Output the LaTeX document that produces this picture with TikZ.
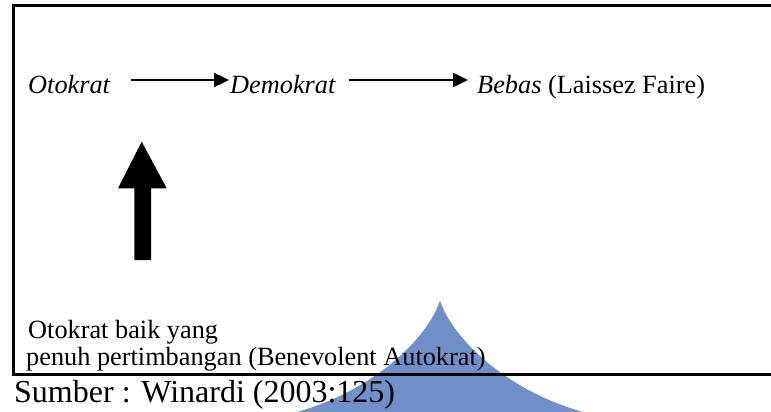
\documentclass[tikz,border=0pt]{standalone}
\usepackage{fontspec}
\setmainfont{Liberation Serif}
\usetikzlibrary{arrows.meta}
\definecolor{shapeblue}{RGB}{113,143,200}
\begin{document}
\begin{tikzpicture}[x=1pt,y=-1pt,
  lbl/.style={inner sep=0pt,anchor=base west,font=\fontsize{26.3}{30}\selectfont},
  src/.style={inner sep=0pt,anchor=base west,font=\fontsize{32}{36}\selectfont},
  arr/.style={line width=2.4pt,-{Triangle[length=15pt,width=14pt]}},
  frame/.style={line width=2.6pt}]
\useasboundingbox (0,0) rectangle (771,412);
\begin{scope}
\clip (0,0) rectangle (771,412);
\fill[shapeblue] (440,300) .. controls (430,335) and (370,402) .. (262,420)
  -- (618,420) .. controls (510,402) and (450,335) .. (440,300) -- cycle;
\end{scope}
\draw[frame] (771,5.7) -- (13.3,5.7) -- (13.3,374.3) -- (771,374.3);
\node[lbl] (oto) at (28,93) {\itshape Otokrat};
\node[lbl] (demo) at (230,93) {\itshape Demokrat};
\node[lbl] (bebas) at (477,93) {\itshape Bebas\upshape{} (Laissez Faire)};
\draw[arr] ([shift={(21,-13)}]oto.base east) -- ([shift={(-1,-13)}]demo.base west);
\draw[arr] ([shift={(13,-13)}]demo.base east) -- ([shift={(-9,-13)}]bebas.base west);
\node[lbl] (baik) at (28,338) {Otokrat baik yang};
\node[lbl] (penuh) at (26,365) {penuh pertimbangan (Benevolent Autokrat)};
\fill (134.3,260) -- (134.3,188.3) -- (118,188.3) -- (141.7,141.7) -- (166.7,188.3) -- (151,188.3) -- (151,260) -- cycle;
\node[src] (sumber) at (14,402) {Sumber : Winardi (2003:125)};
\end{tikzpicture}
\end{document}
